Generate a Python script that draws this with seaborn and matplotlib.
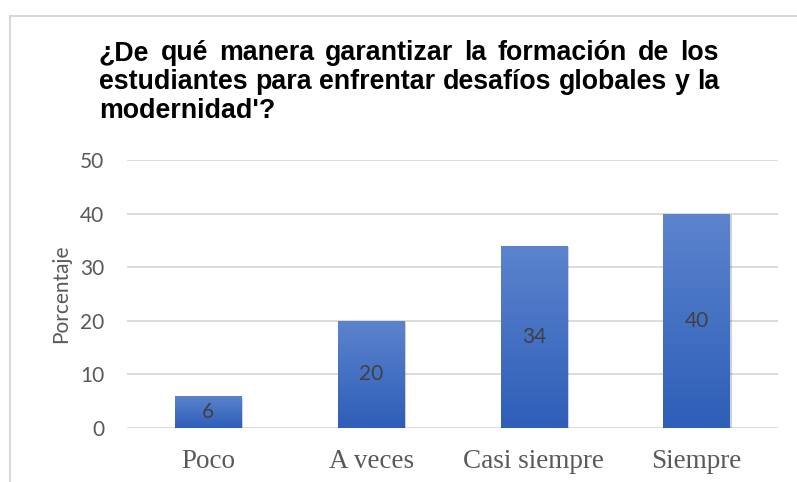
import numpy as np
import pandas as pd
import matplotlib
matplotlib.use("Agg")
import matplotlib.pyplot as plt
import seaborn as sns
from matplotlib.colors import LinearSegmentedColormap
from matplotlib.lines import Line2D
from matplotlib import patheffects as pe

#%% Datos

categorias = ["Poco", "A veces", "Casi siempre", "Siempre"]
porcentajes = [6, 20, 34, 40]
titulo = ["¿De qué manera garantizar la formación de los",
          "estudiantes para enfrentar desafíos globales y la",
          "modernidad'?"]

#%% Estilo

sns.set_theme(style = "white")
plt.rcParams['font.family'] = ['Lato', 'DejaVu Sans']

gris = "#595959"
degradado = LinearSegmentedColormap.from_list("azul", ["#2E5EB8", "#5C84CE"])

df = pd.DataFrame({"categoria": categorias, "porcentaje": porcentajes})

W, H = 797, 482
fig = plt.figure(figsize = (W / 100, H / 100), dpi = 100)
ax = fig.add_axes([127 / W, 1 - 428 / H, (778 - 127) / W, (428 - 160) / H])

sns.barplot(data = df, x = "categoria", y = "porcentaje", color = "#3F6FC6",
            width = 0.41, ax = ax, zorder = 3)

#%% Barras con degradado

grad = np.linspace(0, 1, 256).reshape(-1, 1)
for barra in ax.patches:
    x, w, h = barra.get_x(), barra.get_width(), barra.get_height()
    barra.set_edgecolor("none")
    barra.set_path_effects([pe.SimplePatchShadow(offset = (1.2, -1.2), shadow_rgbFace = "#000000", alpha = 0.18),
                            pe.Normal()])
    im = ax.imshow(grad, cmap = degradado, origin = "lower", aspect = "auto",
                   extent = [x, x + w, 0, h], zorder = 3.5)
    im.set_clip_path(barra)

ax.bar_label(ax.containers[0], label_type = "center", color = "#404040",
             fontsize = 15, zorder = 5)

ax.set_xlim(-0.5, 3.5)
ax.set_ylim(0, 50)
ax.set_yticks(range(0, 51, 10))
ax.yaxis.grid(True, color = "#D9D9D9", linewidth = 1.3)
ax.set_axisbelow(True)
for s in ax.spines.values():
    s.set_visible(False)

ax.tick_params(axis = "y", length = 0, pad = 16.5, labelsize = 15, labelcolor = gris)
ax.tick_params(axis = "x", length = 0, pad = 15, labelsize = 19.5, labelcolor = gris)
for t in ax.get_xticklabels():
    t.set_family("Liberation Serif")

ax.set_xlabel("")
ax.set_ylabel("Porcentaje", fontsize = 15, color = gris)
ax.yaxis.set_label_coords(-0.086, 0.5)

#%% Marco del gráfico

fig.add_artist(Line2D([9.5 / W, 9.5 / W], [0, 1 - 15.5 / H], transform = fig.transFigure,
                      color = "#D9D9D9", lw = 1.5))
fig.add_artist(Line2D([9.5 / W, 1], [1 - 15.5 / H, 1 - 15.5 / H], transform = fig.transFigure,
                      color = "#D9D9D9", lw = 1.5))

#%% Título justificado

fig.canvas.draw()
r = fig.canvas.get_renderer()
x0, x1 = 99, 719
bases = [60, 89, 118]

# tamaño de letra tal que la segunda línea ocupe el ancho con espacios normales
prueba = fig.text(0, 0, titulo[1], fontsize = 16, fontweight = "bold", family = "Liberation Sans")
fs = 16 * (x1 - x0) / prueba.get_window_extent(renderer = r).width
prueba.remove()

for i, linea in enumerate(titulo):
    palabras = linea.split()
    ts = [fig.text(0, 0, p, fontsize = fs, fontweight = "bold", family = "Liberation Sans",
                   va = "baseline", ha = "left", color = "black") for p in palabras]
    anchos = [t.get_window_extent(renderer = r).width for t in ts]
    if i < len(titulo) - 1 and len(palabras) > 1:
        hueco = (x1 - x0 - sum(anchos)) / (len(palabras) - 1)
    else:
        hueco = 0.278 * fs * 100 / 72
    xp = x0
    for t, a in zip(ts, anchos):
        t.set_position((xp / W, 1 - bases[i] / H))
        xp += a + hueco

fig.savefig("out.png", dpi = 100)
